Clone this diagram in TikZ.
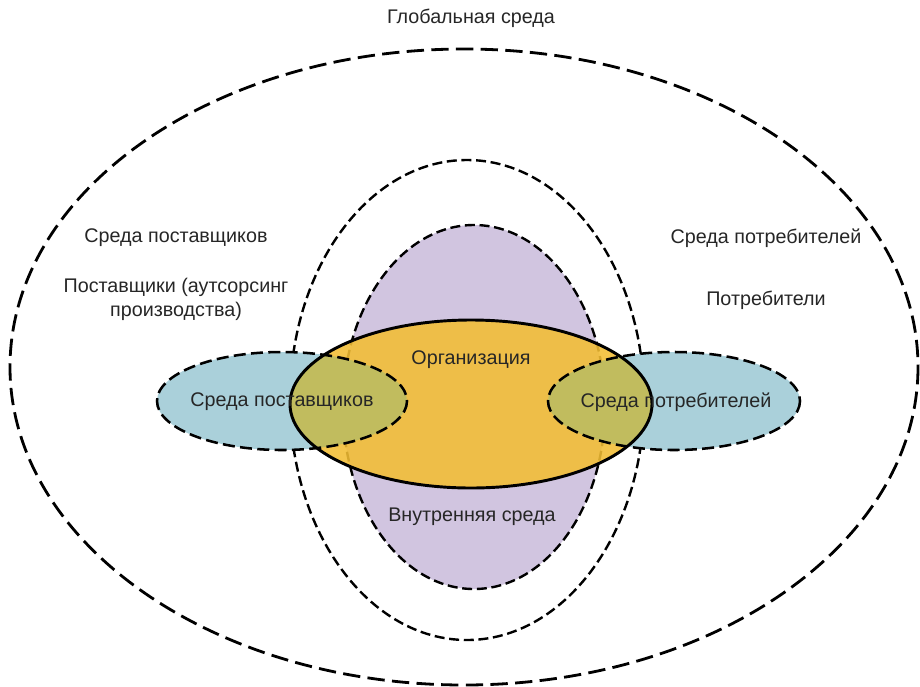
\documentclass[tikz,border=0pt]{standalone}
\usepackage{fontspec}
\setmainfont{Liberation Sans}
\usetikzlibrary{shapes}

\definecolor{envblue}{RGB}{170,208,218}
\definecolor{envpurple}{RGB}{209,197,224}
\definecolor{orgorange}{RGB}{243,190,52}
\definecolor{envolive}{RGB}{188,188,98}

\tikzset{
  longdash/.style={line width=2.1pt, dash pattern=on 13pt off 5.5pt},
  shortdash/.style={line width=1.8pt, dash pattern=on 7.5pt off 3.5pt},
  middash/.style={line width=1.9pt, dash pattern=on 9pt off 4pt},
  lbl/.style={font=\fontsize{14.8}{18}\selectfont, text=black!85, align=center}
}

\begin{document}
\begin{tikzpicture}[x=0.75pt, y=-0.75pt]
\useasboundingbox (0,0) rectangle (920,686);

% global environment
\draw[longdash] (464,367) ellipse [x radius=454, y radius=318];
% stakeholders ring
\draw[shortdash, fill=white] (467,400) ellipse [x radius=177, y radius=240];
% internal environment
\draw[shortdash, fill=envpurple] (474,407) ellipse [x radius=131, y radius=182];

% supplier / customer fills
\fill[envblue] (282,401) ellipse [x radius=125, y radius=49];
\fill[envblue] (674,401) ellipse [x radius=126, y radius=49];
% organisation fill
\fill[orgorange, fill opacity=0.88] (471,404) ellipse [x radius=181, y radius=84];
% overlaps
\begin{scope}
  \clip (471,404) ellipse [x radius=181, y radius=84];
  \fill[envolive, fill opacity=0.88] (282,401) ellipse [x radius=125, y radius=49];
  \fill[envolive, fill opacity=0.88] (674,401) ellipse [x radius=126, y radius=49];
\end{scope}

% outlines on top
\draw[line width=2.2pt] (471,404) ellipse [x radius=181, y radius=84];
\draw[middash] (282,401) ellipse [x radius=125, y radius=49];
\draw[middash] (674,401) ellipse [x radius=126, y radius=49];

% labels
\node[lbl] (global) at (471,18) {Глобальная среда};
\node[lbl] (suppenv) at (176,238) {Среда поставщиков};
\node[lbl] (suppliers) at (176,299) {Поставщики (аутсорсинг\\производства)};
\node[lbl] (custenv) at (766,238) {Среда потребителей};
\node[lbl] (customers) at (766,300) {Потребители};
\node[lbl] (org) at (471,360) {Организация};
\node[lbl] (suppin) at (282,402) {Среда поставщиков};
\node[lbl] (custin) at (676,402) {Среда потребителей};
\node[lbl] (internal) at (472,517) {Внутренняя среда};

\end{tikzpicture}
\end{document}
